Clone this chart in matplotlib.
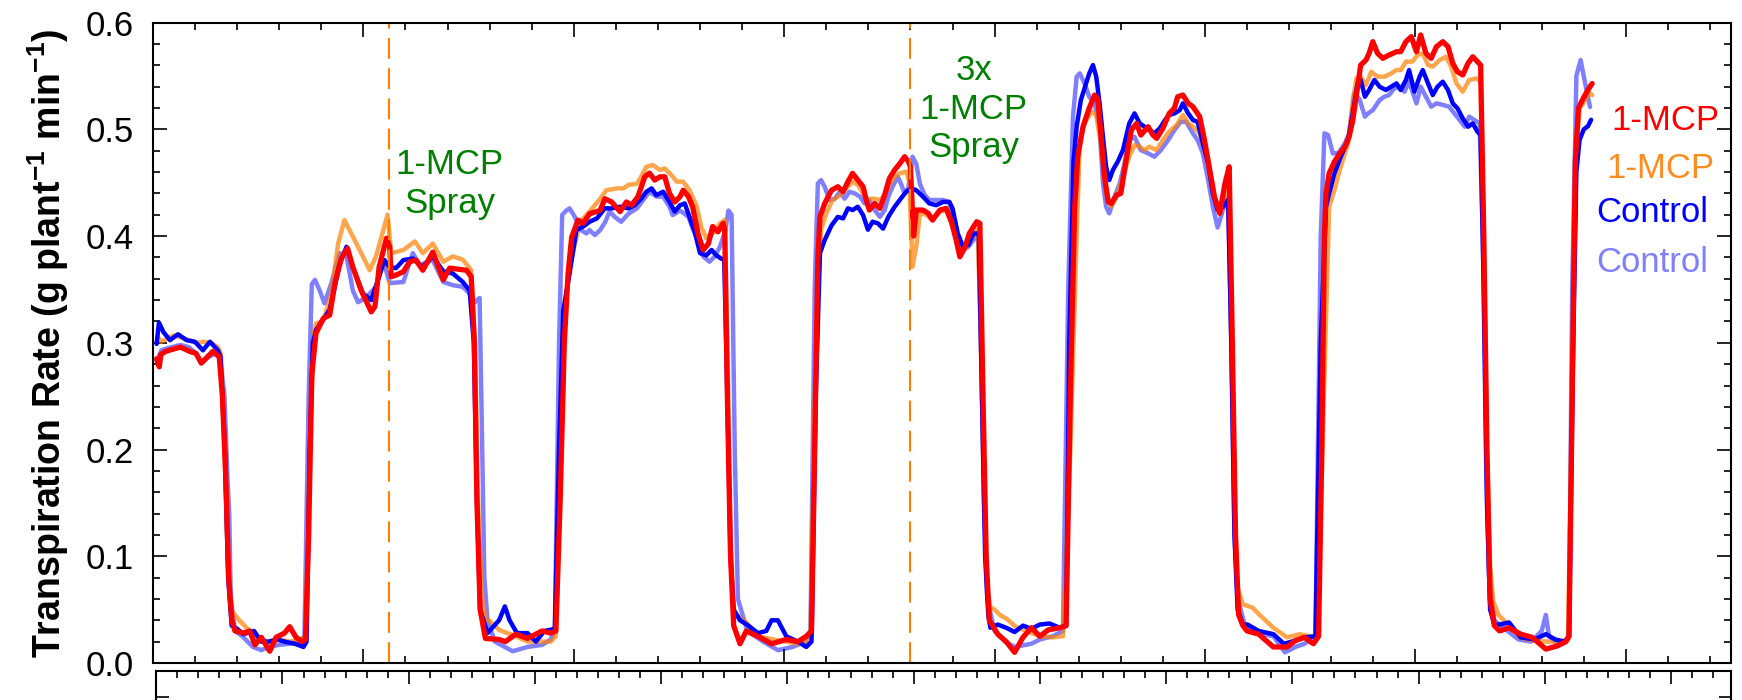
import numpy as np
import matplotlib
matplotlib.use('Agg')
import matplotlib.pyplot as plt
from matplotlib.ticker import MultipleLocator, FixedLocator, NullFormatter

plt.rcParams['font.family'] = ['Liberation Sans', 'DejaVu Sans']
plt.rcParams['mathtext.fontset'] = 'custom'
plt.rcParams['mathtext.rm'] = 'Liberation Sans'
plt.rcParams['mathtext.bf'] = 'Liberation Sans:bold'

# time in hours, transpiration rate in g plant-1 min-1
red = [(0.35, 0.285), (0.6, 0.2775), (0.75, 0.289), (1.2, 0.292), (2.6, 0.296), (3.5, 0.292), (4.1, 0.29),
       (4.6, 0.281), (5.2, 0.287), (5.7, 0.292), (6.3, 0.287), (6.6, 0.25), (6.9, 0.18), (7.2, 0.08), (7.5, 0.04),
       (7.8, 0.03), (8.6, 0.028), (9.2, 0.03), (9.7, 0.017), (10.3, 0.024), (11.1, 0.011), (11.7, 0.024),
       (12.5, 0.028), (13.0, 0.034), (13.6, 0.024), (14.2, 0.02), (14.5, 0.022), (14.8, 0.12), (15.1, 0.27),
       (15.5, 0.309), (16.2, 0.323), (16.8, 0.326), (17.3, 0.356), (17.9, 0.379), (18.5, 0.3885), (19.0, 0.371),
       (19.8, 0.349), (20.75, 0.329), (21.1, 0.334), (21.5, 0.371), (22.2, 0.398), (22.5, 0.39), (22.65, 0.362),
       (23.1, 0.3635), (23.8, 0.3666), (24.4, 0.376), (25.0, 0.3775), (25.65, 0.368), (26.6, 0.385),
       (27.6, 0.359), (28.2, 0.37), (29.8, 0.368), (30.25, 0.362), (30.55, 0.3), (30.8, 0.15), (31.1, 0.05),
       (31.6, 0.023), (32.9, 0.022), (33.5, 0.02), (34.5, 0.027), (35.6, 0.023), (37.0, 0.03), (37.8, 0.028),
       (38.3, 0.03), (38.7, 0.15), (39.1, 0.3),
       (39.46, 0.365), (39.8, 0.399), (40.4, 0.415), (40.9, 0.412), (41.5, 0.421), (42.5, 0.424), (42.95, 0.435),
       (43.6, 0.432), (44.4, 0.423), (45.0, 0.432), (45.5, 0.429), (46.1, 0.437), (46.75, 0.4556), (47.2, 0.459),
       (47.7, 0.4525), (48.2, 0.4556), (48.65, 0.4556), (49.1, 0.44), (49.6, 0.432), (50.1, 0.437), (50.4, 0.443),
       (50.9, 0.437), (51.3, 0.4275), (51.8, 0.4025), (52.3, 0.387), (52.8, 0.393), (53.2, 0.409), (53.7, 0.404),
       (54.2, 0.412), (54.35, 0.4056), (54.6, 0.25), (54.9, 0.1), (55.2, 0.035),
       (55.8, 0.018), (56.4, 0.03), (57.5, 0.025), (58.8, 0.018), (60.2, 0.022), (61.3, 0.02), (62.1, 0.025),
       (62.6, 0.03), (62.9, 0.2), (63.2, 0.38),
       (63.4, 0.418), (63.85, 0.4306), (64.5, 0.443), (65.1, 0.4463), (65.6, 0.4416), (66.06, 0.451),
       (66.5, 0.4588), (67.0, 0.4525), (67.5, 0.4463), (67.8, 0.4338), (68.1, 0.4244), (68.6, 0.4306),
       (69.1, 0.426), (69.55, 0.4385), (70.0, 0.454), (70.5, 0.462), (71.0, 0.4681), (71.45, 0.4744), (71.8, 0.47),
       (72.0, 0.465), (72.3, 0.40), (72.55, 0.4244), (73.2, 0.4244), (73.7, 0.4213), (74.1, 0.415), (74.8, 0.4244),
       (75.4, 0.426), (75.9, 0.4135), (76.35, 0.3963), (76.7, 0.3806), (77.2, 0.39), (77.6, 0.4025),
       (78.3, 0.4135), (78.6, 0.412), (78.9, 0.25), (79.2, 0.1), (79.5, 0.04),
       (80.3, 0.027), (81.1, 0.02), (81.9, 0.01), (82.7, 0.024), (83.5, 0.033), (84.3, 0.025), (85.1, 0.031),
       (86.2, 0.033), (86.8, 0.035), (87.2, 0.25),
       (87.6, 0.4244), (87.9, 0.4744), (88.4, 0.5025), (89.0, 0.52), (89.5, 0.5322), (89.8, 0.529), (90.1, 0.4963),
       (90.45, 0.4556), (90.8, 0.4322), (91.1, 0.4306), (91.6, 0.4385), (92.0, 0.44), (92.5, 0.4713),
       (93.0, 0.4994), (93.5, 0.5056), (93.9, 0.4947), (94.6, 0.5025), (95.05, 0.4947), (95.4, 0.4916),
       (96.0, 0.501), (96.6, 0.515), (97.1, 0.52), (97.4, 0.5306), (97.9, 0.5322), (98.4, 0.5244), (98.85, 0.5213),
       (99.5, 0.5119), (99.95, 0.49), (100.4, 0.465), (100.9, 0.4369), (101.4, 0.4213), (101.9, 0.4494),
       (102.3, 0.465), (102.6, 0.3), (102.9, 0.12), (103.2, 0.045),
       (103.6, 0.035), (104.0, 0.03), (105.1, 0.027), (106.5, 0.015), (107.8, 0.015), (108.6, 0.021),
       (109.45, 0.024), (110.3, 0.018), (110.8, 0.025), (111.1, 0.2), (111.35, 0.4),
       (111.5, 0.44), (111.8, 0.4588), (112.3, 0.4697), (112.8, 0.4775), (113.3, 0.4838), (113.7, 0.4931),
       (114.05, 0.5088), (114.5, 0.54), (114.8, 0.5603), (115.3, 0.565), (115.6, 0.5713), (115.95, 0.5822),
       (116.4, 0.5713), (116.9, 0.5666), (117.5, 0.5697), (118.2, 0.5728), (118.6, 0.5728), (119.1, 0.5822),
       (119.6, 0.5869), (120.1, 0.5728), (120.5, 0.5885), (121.0, 0.5713), (121.5, 0.5666), (122.0, 0.5775),
       (122.6, 0.5822), (123.1, 0.5775), (123.55, 0.5619), (124.0, 0.554), (124.5, 0.551), (125.0, 0.5619),
       (125.45, 0.5681), (125.9, 0.5635), (126.2, 0.5603), (126.5, 0.4), (126.8, 0.2), (127.1, 0.06),
       (127.5, 0.035), (128.0, 0.03), (128.9, 0.033), (130.0, 0.027), (131.1, 0.024), (132.4, 0.013),
       (133.5, 0.016), (134.3, 0.02), (134.6, 0.025), (134.9, 0.25), (135.2, 0.47), (135.5, 0.52), (136.0, 0.53),
       (136.4, 0.537), (136.8, 0.543)]

blue = [(0.35, 0.299), (0.57, 0.319), (1.0, 0.31), (1.62, 0.3025), (2.38, 0.308), (3.2, 0.3025), (3.99, 0.301),
        (4.75, 0.293), (5.42, 0.301), (6.17, 0.293), (6.43, 0.287), (6.84, 0.2), (7.15, 0.08), (7.48, 0.035),
        (8.0, 0.032), (8.6, 0.027), (9.6, 0.03), (10.3, 0.02), (11.0, 0.02), (11.8, 0.022), (12.5, 0.02),
        (13.5, 0.018), (14.3, 0.015), (14.6, 0.02), (14.9, 0.2),
        (15.2, 0.3), (15.5, 0.312), (16.8, 0.331), (17.75, 0.374), (18.4, 0.39), (19.0, 0.371), (19.96, 0.346),
        (20.75, 0.34), (21.5, 0.362), (22.0, 0.3775), (22.5, 0.371), (23.1, 0.37), (23.8, 0.3775), (24.7, 0.379),
        (25.6, 0.371), (26.6, 0.381), (27.6, 0.367), (28.5, 0.365), (29.45, 0.357), (30.1, 0.349), (30.5, 0.3),
        (30.8, 0.15), (31.1, 0.05),
        (31.8, 0.028), (32.9, 0.04), (33.45, 0.053), (33.9, 0.04), (34.6, 0.028), (35.6, 0.028), (36.4, 0.02),
        (37.2, 0.03), (38.2, 0.032), (38.6, 0.2), (39.0, 0.33),
        (39.6, 0.365), (40.25, 0.4056), (40.9, 0.409), (41.5, 0.4134), (42.2, 0.4166), (42.95, 0.426),
        (43.6, 0.426), (44.4, 0.4275), (45.2, 0.426), (45.8, 0.429), (46.4, 0.435), (46.9, 0.4416), (47.4, 0.4447),
        (47.85, 0.4384), (48.5, 0.4416), (49.1, 0.432), (49.6, 0.423), (50.1, 0.429), (50.55, 0.4306),
        (51.0, 0.418), (51.5, 0.404), (52.0, 0.384), (52.6, 0.382), (53.1, 0.387), (53.55, 0.382), (54.0, 0.379),
        (54.3, 0.378), (54.6, 0.25), (54.9, 0.1), (55.2, 0.05),
        (55.8, 0.04), (56.6, 0.035), (57.5, 0.028), (58.3, 0.03), (58.8, 0.04), (59.4, 0.04), (60.2, 0.025),
        (61.3, 0.02), (62.1, 0.015), (62.6, 0.02), (63.0, 0.25),
        (63.4, 0.384), (63.85, 0.3963), (64.5, 0.41), (65.1, 0.418), (65.6, 0.4166), (66.06, 0.426),
        (66.5, 0.4244), (67.0, 0.4275), (67.5, 0.4197), (67.96, 0.406), (68.4, 0.4135), (68.9, 0.412),
        (69.4, 0.407), (69.9, 0.418), (70.5, 0.4275), (71.1, 0.4353), (71.6, 0.4416), (72.1, 0.4447),
        (72.55, 0.443), (73.2, 0.4369), (73.8, 0.4306), (74.45, 0.429), (75.1, 0.432), (75.7, 0.432),
        (76.0, 0.426), (76.5, 0.4025), (77.0, 0.39), (77.5, 0.3916), (78.0, 0.4025), (78.5, 0.4025),
        (78.8, 0.25), (79.1, 0.1), (79.4, 0.045),
        (79.6, 0.033), (80.3, 0.036), (81.1, 0.033), (81.9, 0.029), (82.7, 0.035), (83.5, 0.032), (84.3, 0.036),
        (85.2, 0.037), (86.2, 0.033), (86.8, 0.035), (87.1, 0.3), (87.5, 0.47),
        (87.8, 0.5025), (88.2, 0.5275), (88.7, 0.543), (89.0, 0.5525), (89.35, 0.5603), (89.66, 0.5494),
        (89.98, 0.5244), (90.3, 0.493), (90.6, 0.465), (90.9, 0.4525), (91.25, 0.462), (91.7, 0.4697),
        (92.2, 0.4806), (92.8, 0.5056), (93.3, 0.515), (93.8, 0.5056), (94.25, 0.5025), (94.7, 0.4994),
        (95.2, 0.4963), (95.7, 0.501), (96.2, 0.5088), (96.6, 0.5135), (97.1, 0.515), (97.6, 0.518),
        (97.9, 0.5244), (98.4, 0.515), (98.85, 0.5088), (99.3, 0.507), (99.8, 0.4869), (100.3, 0.468),
        (100.75, 0.44), (101.2, 0.4244), (101.7, 0.4275), (102.2, 0.4338), (102.5, 0.3), (102.8, 0.12),
        (103.1, 0.05),
        (103.6, 0.036), (104.05, 0.036), (105.1, 0.03), (106.5, 0.027), (107.5, 0.018), (108.6, 0.021),
        (109.45, 0.024), (110.5, 0.025), (111.0, 0.3),
        (111.5, 0.4275), (111.8, 0.44), (112.3, 0.4588), (112.9, 0.4744), (113.6, 0.49), (114.05, 0.515),
        (114.5, 0.5431), (114.8, 0.5463), (115.2, 0.5306), (115.6, 0.5369), (116.1, 0.5463), (116.6, 0.54),
        (117.2, 0.5369), (117.7, 0.54), (118.2, 0.5431), (118.6, 0.5369), (119.1, 0.5463), (119.4, 0.5556),
        (119.9, 0.5353), (120.4, 0.5494), (120.7, 0.5556), (121.2, 0.5431), (121.65, 0.5322), (122.1, 0.54),
        (122.6, 0.5447), (123.1, 0.5369), (123.55, 0.5244), (124.0, 0.5197), (124.5, 0.5103), (125.0, 0.5025),
        (125.45, 0.5056), (125.9, 0.4978), (126.2, 0.4947), (126.5, 0.35), (126.8, 0.15), (127.1, 0.05),
        (127.5, 0.036), (128.0, 0.036), (128.9, 0.038), (130.0, 0.024), (131.3, 0.022), (132.4, 0.027),
        (133.3, 0.022), (134.2, 0.02), (134.6, 0.025), (135.0, 0.3), (135.3, 0.46), (135.6, 0.49), (136.0, 0.5),
        (136.4, 0.503), (136.7, 0.509)]

orange = [(0.45, 0.3056), (0.8, 0.301), (2.0, 0.307), (3.0, 0.304), (4.1, 0.30), (4.8, 0.301), (5.5, 0.30),
          (6.17, 0.296), (6.45, 0.29), (6.8, 0.2), (7.1, 0.1), (7.4, 0.05),
          (8.2, 0.04), (9.0, 0.032), (10.0, 0.022), (11.0, 0.02), (12.0, 0.022), (13.0, 0.02), (14.0, 0.022),
          (14.5, 0.025), (14.9, 0.2), (15.3, 0.31),
          (15.5, 0.318), (16.2, 0.321), (16.96, 0.346), (17.6, 0.393), (18.2, 0.415), (18.85, 0.4025),
          (19.65, 0.387), (20.6, 0.368), (21.2, 0.381), (21.9, 0.406), (22.3, 0.42), (22.65, 0.384),
          (23.8, 0.387), (24.9, 0.395), (25.65, 0.384), (26.6, 0.393), (27.6, 0.376), (28.5, 0.381),
          (29.45, 0.378), (30.25, 0.368), (30.6, 0.3), (30.9, 0.15), (31.3, 0.06),
          (31.6, 0.043), (32.9, 0.031), (34.5, 0.025), (35.6, 0.02), (37.0, 0.02), (37.8, 0.02), (38.3, 0.025),
          (38.8, 0.2), (39.2, 0.34),
          (39.6, 0.371), (40.6, 0.4134), (41.5, 0.423), (42.5, 0.435), (43.1, 0.443), (44.1, 0.4447),
          (44.7, 0.4447), (45.2, 0.448), (46.0, 0.449), (46.4, 0.4556), (46.9, 0.465), (47.5, 0.4666),
          (48.2, 0.462), (48.65, 0.4634), (49.3, 0.457), (49.8, 0.451), (50.4, 0.451), (51.0, 0.443),
          (51.7, 0.4275), (52.1, 0.409), (52.6, 0.398), (53.2, 0.4025), (53.9, 0.412), (54.35, 0.415),
          (54.6, 0.3), (54.9, 0.12), (55.2, 0.047),
          (56.4, 0.038), (57.5, 0.025), (59.0, 0.022), (61.3, 0.018), (62.5, 0.022), (63.0, 0.3),
          (63.5, 0.406), (64.0, 0.4213), (64.6, 0.4338), (65.3, 0.438), (65.9, 0.445), (66.5, 0.451),
          (67.0, 0.448), (67.5, 0.44), (67.96, 0.4338), (68.4, 0.4353), (69.1, 0.4338), (69.55, 0.4385),
          (70.0, 0.448), (70.5, 0.4556), (71.0, 0.4588), (71.6, 0.4604), (71.9, 0.451), (72.2, 0.3713),
          (72.55, 0.39), (72.9, 0.4213), (73.5, 0.42), (74.1, 0.415), (74.8, 0.423), (75.4, 0.424), (76.0, 0.409),
          (76.5, 0.393), (77.0, 0.3854), (77.5, 0.393), (78.0, 0.401), (78.4, 0.406), (78.7, 0.3), (79.0, 0.15),
          (79.3, 0.07),
          (79.6, 0.052), (80.0, 0.05), (80.5, 0.045), (81.2, 0.041), (82.0, 0.034), (83.0, 0.03), (84.3, 0.025),
          (85.5, 0.024), (86.5, 0.025), (87.2, 0.2), (87.8, 0.4),
          (88.1, 0.49), (88.55, 0.5056), (89.2, 0.5166), (89.66, 0.5135), (90.1, 0.487), (90.6, 0.44),
          (91.1, 0.4275), (91.6, 0.437), (92.2, 0.4556), (92.8, 0.4744), (93.3, 0.4853), (93.8, 0.4838),
          (94.25, 0.4806), (94.7, 0.4838), (95.4, 0.4806), (96.0, 0.49), (96.6, 0.498), (97.3, 0.504),
          (97.9, 0.5135), (98.4, 0.5056), (98.85, 0.5025), (99.5, 0.4963), (100.1, 0.4744), (100.75, 0.443),
          (101.2, 0.4244), (101.7, 0.4338), (102.2, 0.4494), (102.5, 0.3), (102.8, 0.15), (103.1, 0.07),
          (103.6, 0.055), (104.5, 0.052), (105.2, 0.045), (106.5, 0.033), (107.8, 0.024), (109.0, 0.027),
          (110.0, 0.025), (110.7, 0.025), (111.3, 0.25),
          (111.8, 0.4275), (112.3, 0.4431), (112.9, 0.465), (113.6, 0.4869), (114.05, 0.5275), (114.4, 0.5478),
          (114.8, 0.5494), (115.3, 0.5416), (115.8, 0.554), (116.4, 0.5494), (117.05, 0.5494), (117.7, 0.5525),
          (118.2, 0.5556), (118.6, 0.5556), (119.1, 0.5635), (119.7, 0.5635), (120.2, 0.5697), (120.7, 0.5713),
          (121.2, 0.5603), (121.65, 0.5588), (122.3, 0.565), (122.9, 0.5681), (123.4, 0.5588), (123.9, 0.543),
          (124.5, 0.5353), (125.1, 0.5463), (125.8, 0.5478), (126.2, 0.5447), (126.5, 0.4), (126.8, 0.2),
          (127.1, 0.09),
          (127.4, 0.058), (127.9, 0.045), (128.8, 0.036), (129.9, 0.024), (131.1, 0.021), (132.5, 0.02),
          (133.6, 0.02), (134.5, 0.022), (134.9, 0.25), (135.3, 0.48), (135.6, 0.52), (136.0, 0.525),
          (136.5, 0.535), (136.8, 0.532)]

light = [(0.35, 0.283), (0.8, 0.293), (1.4, 0.295), (2.6, 0.298), (3.4, 0.296), (4.1, 0.29), (4.6, 0.281),
         (5.3, 0.287), (6.0, 0.29), (6.4, 0.285), (6.8, 0.25), (7.1, 0.17), (7.25, 0.14), (7.4, 0.06),
         (7.8, 0.03), (8.5, 0.025), (9.5, 0.015), (10.3, 0.012), (11.0, 0.015), (12.0, 0.017), (13.0, 0.018),
         (14.0, 0.02), (14.4, 0.025), (14.8, 0.25),
         (15.1, 0.355), (15.4, 0.359), (15.85, 0.349), (16.3, 0.337), (16.96, 0.356), (17.75, 0.384),
         (18.4, 0.381), (19.0, 0.349), (19.5, 0.338), (20.3, 0.343), (21.2, 0.3525), (21.9, 0.3775),
         (22.5, 0.356), (23.8, 0.357), (24.7, 0.384), (25.35, 0.373), (26.6, 0.3775), (27.6, 0.357),
         (28.5, 0.354), (29.45, 0.3525), (30.1, 0.346), (30.6, 0.338), (31.05, 0.342), (31.3, 0.2), (31.5, 0.08),
         (31.8, 0.04), (32.5, 0.02), (34.2, 0.011), (35.6, 0.015), (37.0, 0.017), (37.8, 0.022), (38.2, 0.03),
         (38.6, 0.3), (38.9, 0.42),
         (39.3, 0.424), (39.6, 0.426), (40.1, 0.418), (40.7, 0.4056), (41.2, 0.4025), (41.5, 0.4056),
         (42.0, 0.401), (42.5, 0.4056), (43.0, 0.4134), (43.4, 0.423), (43.9, 0.418), (44.5, 0.4134),
         (45.2, 0.421), (46.0, 0.426), (46.6, 0.4338), (47.2, 0.4416), (47.85, 0.437), (48.5, 0.437),
         (49.1, 0.4275), (49.4, 0.4197), (50.1, 0.424), (50.9, 0.418), (51.3, 0.407), (51.8, 0.396),
         (52.3, 0.381), (52.9, 0.376), (53.4, 0.381), (53.9, 0.39), (54.4, 0.405), (54.7, 0.424), (55.0, 0.42),
         (55.3, 0.2), (55.6, 0.06),
         (56.5, 0.03), (58.0, 0.02), (59.4, 0.012), (60.8, 0.015), (62.0, 0.02), (62.5, 0.03), (62.9, 0.35),
         (63.2, 0.4494), (63.5, 0.4525), (63.85, 0.4463), (64.3, 0.4338), (64.8, 0.435), (65.3, 0.4416),
         (65.75, 0.435), (66.2, 0.4416), (66.7, 0.44), (67.2, 0.437), (67.65, 0.4306), (68.1, 0.4338),
         (68.6, 0.4244), (69.1, 0.418), (69.55, 0.4244), (69.9, 0.437), (70.3, 0.4463), (70.8, 0.4556),
         (71.1, 0.449), (71.45, 0.44), (71.8, 0.445), (72.2, 0.4744), (72.55, 0.468), (72.9, 0.449),
         (73.35, 0.4385), (73.8, 0.4338), (74.5, 0.4338), (75.1, 0.4338), (75.7, 0.432), (76.0, 0.4213),
         (76.5, 0.399), (77.0, 0.387), (77.5, 0.39), (78.0, 0.3963), (78.45, 0.4025), (78.7, 0.3), (79.0, 0.15),
         (79.3, 0.06),
         (80.0, 0.03), (81.0, 0.02), (81.9, 0.015), (83.5, 0.018), (84.3, 0.022), (85.5, 0.025), (86.5, 0.03),
         (87.0, 0.35),
         (87.45, 0.5119), (87.8, 0.5494), (88.1, 0.5525), (88.55, 0.543), (89.0, 0.5306), (89.5, 0.5244),
         (89.98, 0.5025), (90.3, 0.4494), (90.6, 0.4275), (90.9, 0.4213), (91.4, 0.437), (91.9, 0.4494),
         (92.35, 0.4681), (92.8, 0.49), (93.3, 0.493), (93.9, 0.4806), (94.6, 0.4775), (95.2, 0.4744),
         (95.8, 0.4806), (96.5, 0.49), (97.1, 0.4994), (97.7, 0.5072), (98.2, 0.5072), (98.85, 0.4963),
         (99.3, 0.49), (99.8, 0.4775), (100.3, 0.4525), (100.75, 0.4275), (101.2, 0.408), (101.7, 0.4244),
         (102.2, 0.437), (102.5, 0.3), (102.8, 0.12), (103.1, 0.06),
         (103.8, 0.035), (105.0, 0.028), (106.5, 0.025), (107.6, 0.01), (108.6, 0.015), (109.45, 0.018),
         (110.5, 0.025), (111.0, 0.4),
         (111.35, 0.4963), (111.7, 0.4947), (112.15, 0.4775), (112.7, 0.478), (113.3, 0.487), (113.7, 0.4963),
         (114.2, 0.5338), (114.7, 0.528), (115.2, 0.512), (115.5, 0.515), (115.95, 0.518), (116.6, 0.5275),
         (117.05, 0.5306), (117.5, 0.5322), (118.0, 0.5385), (118.5, 0.54), (118.96, 0.5353), (119.4, 0.5447),
         (120.1, 0.5244), (120.5, 0.54), (121.0, 0.5306), (121.5, 0.5213), (122.0, 0.5244), (122.6, 0.523),
         (123.2, 0.5213), (123.7, 0.515), (124.2, 0.5088), (124.7, 0.5025), (125.1, 0.512), (125.6, 0.5088),
         (126.1, 0.5056), (126.4, 0.4), (126.7, 0.2), (127.0, 0.08),
         (127.5, 0.04), (128.5, 0.032), (129.8, 0.022), (131.0, 0.02), (132.0, 0.03), (132.4, 0.045),
         (132.7, 0.025), (133.5, 0.018), (134.3, 0.02), (134.6, 0.025), (134.9, 0.35), (135.3, 0.55),
         (135.7, 0.565), (136.2, 0.54), (136.6, 0.521)]

spray_times = [22.4, 72.0]
legend_labels = ['1-MCP', '1-MCP', 'Control', 'Control']

fig = plt.figure(figsize=(17.42, 7.0), dpi=100)
ax = fig.add_axes([0.0878, 0.0529, 0.9059, 0.9147])

for pts, col, lw, a in [(light, '#0000FF', 3.2, 0.5), (orange, '#FF7F00', 3.2, 0.7),
                        (blue, '#0000FF', 3.2, 1.0), (red, '#FF0000', 3.8, 1.0)]:
    t, v = np.array(pts).T
    ax.plot(t, v, color=col, lw=lw, alpha=a, solid_joinstyle='round', solid_capstyle='round')

for st in spray_times:
    ax.axvline(st, color='#FF8000', lw=1.5, linestyle=(0, (10, 4.5)))

ax.set_xlim(0, 150)
ax.set_ylim(0, 0.6)
ax.xaxis.set_major_locator(MultipleLocator(20))
ax.xaxis.set_minor_locator(MultipleLocator(4))
ax.xaxis.set_major_formatter(NullFormatter())
ax.yaxis.set_major_locator(MultipleLocator(0.1))
ax.yaxis.set_minor_locator(MultipleLocator(0.02))
ax.yaxis.set_major_formatter(plt.FuncFormatter(lambda y, p: f'{y:.1f}'))
ax.tick_params(which='both', direction='in', top=True, right=True, width=1.2, labelsize=25, pad=14)
ax.tick_params(which='major', length=10)
ax.tick_params(which='minor', length=5)
for s in ax.spines.values():
    s.set_linewidth(1.5)

ax.set_ylabel(r'Transpiration Rate (g plant$^{\mathbf{-1}}$ min$^{\mathbf{-1}}$)',
              fontsize=27, fontweight='bold', labelpad=10)

ax.text(28.2, 0.449, '1-MCP\nSpray', color='#008000', fontsize=25, ha='center', va='center',
        linespacing=1.25)
ax.text(78.0, 0.519, '3x\n1-MCP\nSpray', color='#008000', fontsize=25, ha='center', va='center',
        linespacing=1.2)

leg_pos = [(148.9, 0.4994), (148.4, 0.4544), (147.8, 0.4131), (147.8, 0.3663)]
leg_cols = ['#FF0000', '#FF8C1E', '#0000FF', '#8080FF']
for (x, y), lab, c in zip(leg_pos, legend_labels, leg_cols):
    ax.text(x, y, lab, color=c, fontsize=25, ha='right', va='baseline')

# second panel below, mostly cut off
ax2 = fig.add_axes([0.0896, -0.3, 0.9041, 0.3414])
ax2.set_xlim(0.285, 150)
ax2.set_ylim(0, 1)
ax2.xaxis.set_major_locator(FixedLocator(np.arange(0.3, 150, 12)))
ax2.xaxis.set_minor_locator(FixedLocator(np.arange(0.3, 150, 2)))
ax2.xaxis.set_major_formatter(NullFormatter())
ax2.set_yticks([0.89])
ax2.yaxis.set_major_formatter(NullFormatter())
ax2.tick_params(which='both', direction='in', top=True, bottom=False, right=True, width=1.2)
ax2.tick_params(which='major', length=9)
ax2.tick_params(which='minor', length=5)
for s in ax2.spines.values():
    s.set_linewidth(1.5)

fig.savefig('out.png', dpi=100)
